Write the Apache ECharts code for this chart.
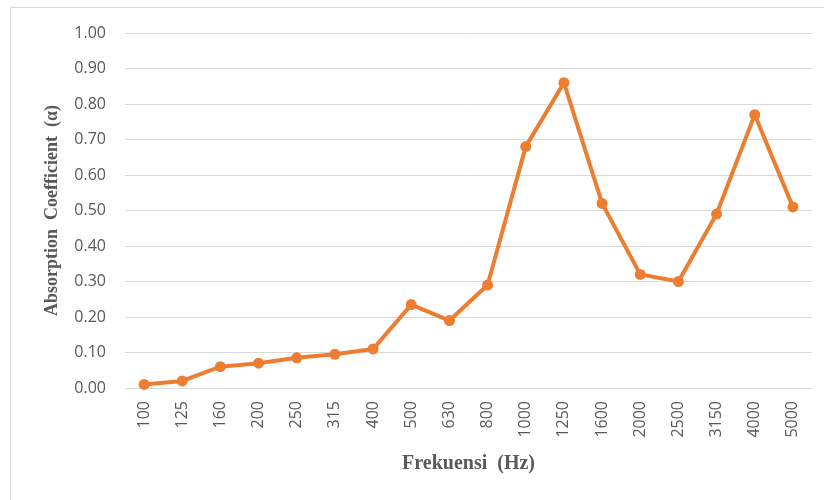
<!DOCTYPE html>
<html>
<head>
<meta charset="utf-8">
<script src="https://cdn.jsdelivr.net/npm/echarts@6/dist/echarts.min.js"></script>
<style>
  body { margin: 0; background: #fff; }
  #frame { position: absolute; left: 10px; top: 7px; width: 830px; height: 510px;
    border-left: 1px solid #d9d9d9; border-top: 1px solid #d9d9d9; }
  #chart { position: absolute; left: 0; top: 0; width: 824px; height: 500px; }
</style>
</head>
<body>
<div id="frame"></div>
<div id="chart"></div>
<script>
const frequencies = ['100', '125', '160', '200', '250', '315', '400', '500', '630', '800',
  '1000', '1250', '1600', '2000', '2500', '3150', '4000', '5000'];
const absorption = [0.01, 0.02, 0.06, 0.07, 0.085, 0.095, 0.11, 0.235, 0.19, 0.29,
  0.68, 0.86, 0.52, 0.32, 0.30, 0.49, 0.77, 0.51];

const chart = echarts.init(document.getElementById('chart'));
const labelFont = '"Open Sans", "Liberation Sans", sans-serif';
const nameFont = '"Liberation Serif", "DejaVu Serif", serif';

chart.setOption({
  animation: false,
  grid: { left: 125, right: 12, top: 33, bottom: 112 },
  xAxis: {
    type: 'category',
    data: frequencies,
    boundaryGap: true,
    name: 'Frekuensi  (Hz)',
    nameLocation: 'middle',
    nameGap: 66,
    nameTextStyle: { color: '#595959', fontFamily: nameFont, fontWeight: 'bold', fontSize: 20 },
    axisLine: { show: false },
    axisTick: { show: false },
    axisLabel: { rotate: 90, color: '#595959', fontFamily: labelFont, fontSize: 16, margin: 13, interval: 0 }
  },
  yAxis: {
    type: 'value',
    min: 0,
    max: 1,
    interval: 0.1,
    name: 'Absorption  Coefficient  (\u03b1)',
    nameLocation: 'middle',
    nameGap: 64,
    nameTextStyle: { color: '#595959', fontFamily: nameFont, fontWeight: 'bold', fontSize: 18 },
    axisLine: { show: false },
    axisTick: { show: false },
    axisLabel: { color: '#595959', fontFamily: labelFont, fontSize: 16, margin: 19,
      formatter: (v) => v.toFixed(2) },
    splitLine: { lineStyle: { color: '#d9d9d9', width: 1 } }
  },
  series: [{
    type: 'line',
    data: absorption,
    symbol: 'circle',
    symbolSize: 11,
    itemStyle: { color: '#ED7D31' },
    lineStyle: { color: '#ED7D31', width: 4 }
  }]
});
</script>
</body>
</html>
